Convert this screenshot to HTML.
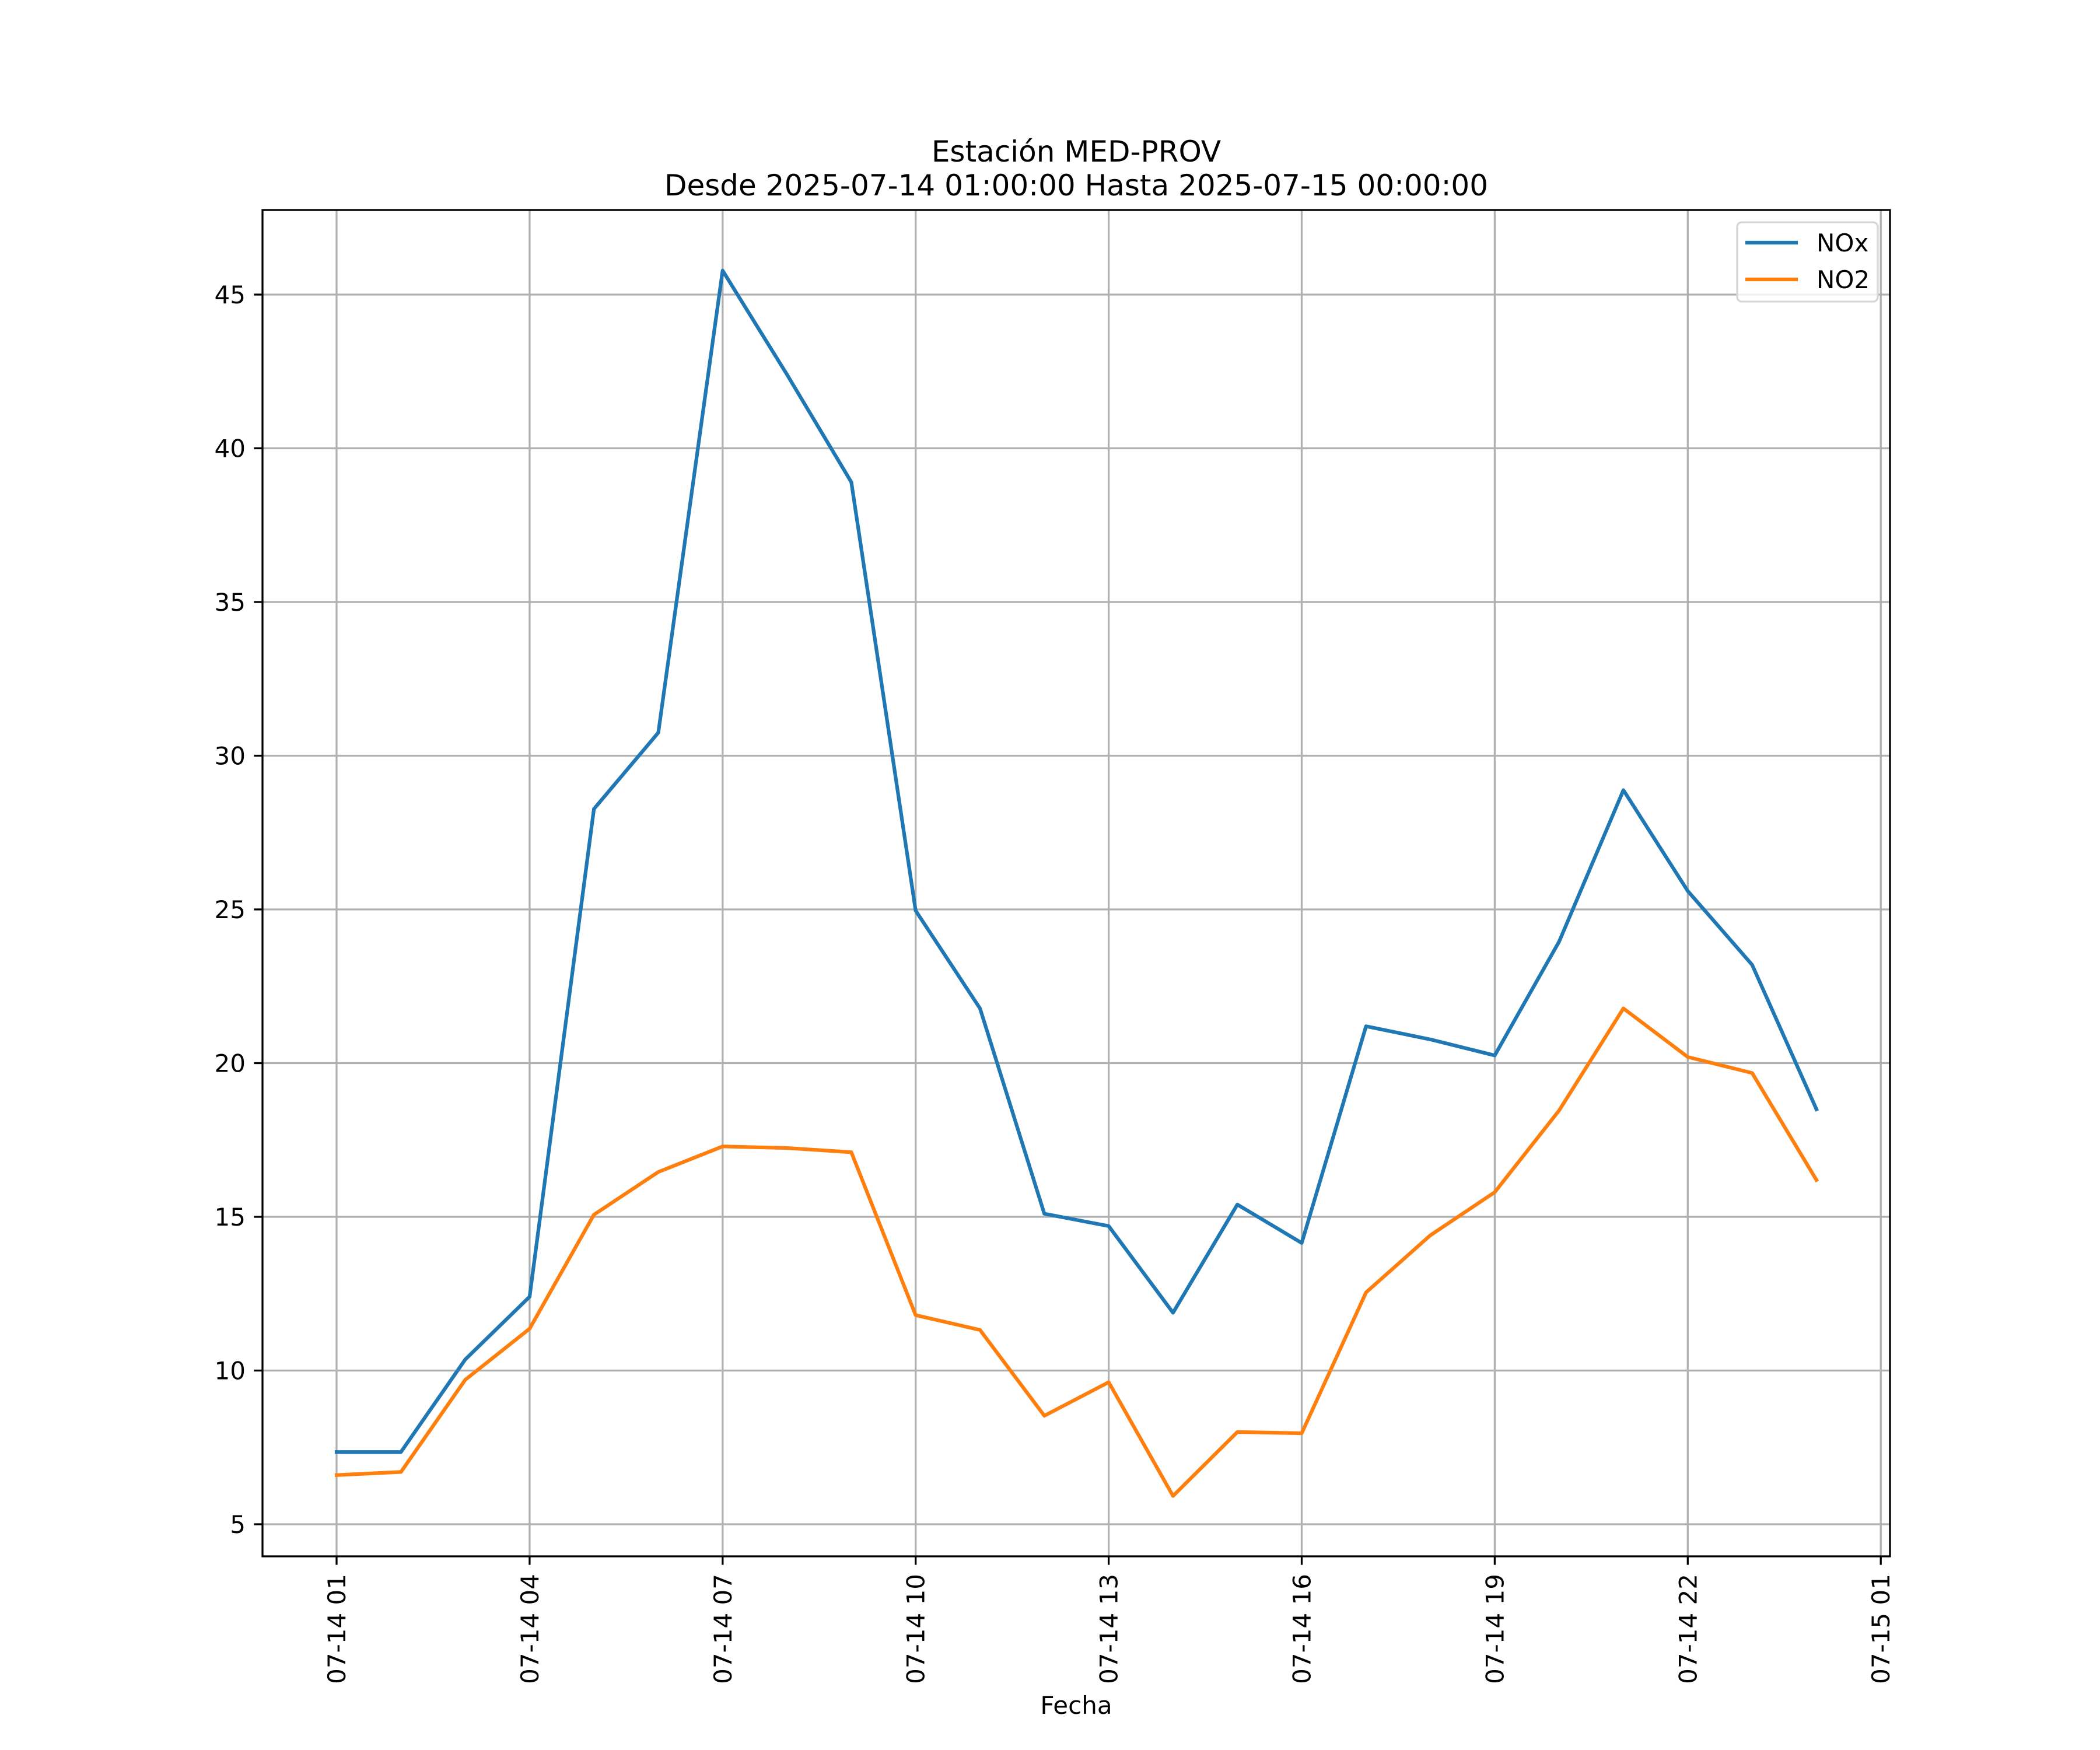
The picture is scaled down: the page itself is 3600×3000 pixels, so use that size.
<!DOCTYPE html>
<html><head><meta charset="utf-8"><style>
html,body{margin:0;padding:0;background:#fff;}
svg{display:block;font-family:"DejaVu Sans","Liberation Sans",sans-serif;}
</style></head><body>
<svg id="chart" width="3600" height="3000" viewBox="0 0 3600 3000" xmlns="http://www.w3.org/2000/svg"></svg>
<script>
const hours = [1,2,3,4,5,6,7,8,9,10,11,12,13,14,15,16,17,18,19,20,21,22,23,24];
const noxValues = [7.35,7.35,10.36,12.4,28.27,30.75,45.78,42.4,38.9,24.96,21.78,15.1,14.7,11.88,15.4,14.15,21.2,20.77,20.25,23.95,28.88,25.6,23.2,18.5];
const no2Values = [6.6,6.7,9.7,11.36,15.07,16.46,17.29,17.24,17.1,11.8,11.32,8.53,9.62,5.92,8.0,7.96,12.54,14.4,15.8,18.46,21.78,20.2,19.68,16.2];
const yTicks = [5,10,15,20,25,30,35,40,45];
const xTickHours = [1,4,7,10,13,16,19,22,25];
const xTickLabels = ["07-14 01","07-14 04","07-14 07","07-14 10","07-14 13","07-14 16","07-14 19","07-14 22","07-15 01"];

const L=450,R=3240,T=360,B=2668;
const x0=577, pxPerHour=110.3;
function xs(h){return x0+(h-1)*pxPerHour;}
function ys(v){return 505+(45-v)*52.7;}
const NS="http://www.w3.org/2000/svg";
const svg=document.getElementById('chart');
function mk(tag,attrs,parent){const e=document.createElementNS(NS,tag);for(const k in attrs)e.setAttribute(k,attrs[k]);(parent||svg).appendChild(e);return e;}

yTicks.forEach(v=>{
  const g=mk('line',{x1:L,x2:R,y1:ys(v),y2:ys(v),stroke:'#b0b0b0','stroke-width':3.3});
  
  
});
xTickHours.forEach(h=>{
  const g=mk('line',{x1:xs(h),x2:xs(h),y1:T,y2:B,stroke:'#b0b0b0','stroke-width':3.3});
  
  
});

function series(vals,color,name){
  const pts=vals.map((v,i)=>xs(hours[i]).toFixed(1)+','+ys(v).toFixed(1)).join(' ');
  const p=mk('polyline',{points:pts,fill:'none',stroke:color,'stroke-width':6.25,'stroke-linejoin':'round','stroke-linecap':'square'});
  
  
}
series(noxValues,'#1f77b4','nox-line');
series(no2Values,'#ff7f0e','no2-line');

const fr=mk('rect',{x:L,y:T,width:R-L,height:B-T,fill:'none',stroke:'#000','stroke-width':3.3});



yTicks.forEach(v=>{
  const t=mk('line',{x1:L-14.6,x2:L,y1:ys(v),y2:ys(v),stroke:'#000','stroke-width':3.3});
  
  
  const lb=mk('text',{x:L-29,y:ys(v)+15,'text-anchor':'end','font-size':42});
  lb.textContent=v;
  
  
});
xTickHours.forEach((h,i)=>{
  const t=mk('line',{x1:xs(h),x2:xs(h),y1:B,y2:B+14.6,stroke:'#000','stroke-width':3.3});
  
  
  const lb=mk('text',{x:0,y:0,'text-anchor':'end','font-size':42,transform:`translate(${xs(h)+15},${B+30}) rotate(-90)`});
  lb.textContent=xTickLabels[i];
  
  
});
</script>
<svg style="position:absolute;left:0;top:0" width="3600" height="3000">
<text x="1845" y="277" text-anchor="middle" font-size="50" font-family="DejaVu Sans, Liberation Sans, sans-serif">Estación MED-PROV</text>
<text x="1845" y="335" text-anchor="middle" font-size="50" font-family="DejaVu Sans, Liberation Sans, sans-serif">Desde 2025-07-14 01:00:00 Hasta 2025-07-15 00:00:00</text>
<text x="1845" y="2938" text-anchor="middle" font-size="42" font-family="DejaVu Sans, Liberation Sans, sans-serif">Fecha</text>
<g>
<rect x="2978" y="381" width="241" height="136" rx="8" fill="#fff" fill-opacity="0.8" stroke="#d6d6d6" stroke-width="3.3"/>
<line x1="2992" y1="416" x2="3082" y2="416" stroke="#1f77b4" stroke-width="6.25"/>
<text x="3114" y="431" font-size="42" font-family="DejaVu Sans, Liberation Sans, sans-serif">NOx</text>
<line x1="2992" y1="479" x2="3082" y2="479" stroke="#ff7f0e" stroke-width="6.25"/>
<text x="3114" y="494" font-size="42" font-family="DejaVu Sans, Liberation Sans, sans-serif">NO2</text>
</g>
</svg>
</body></html>
